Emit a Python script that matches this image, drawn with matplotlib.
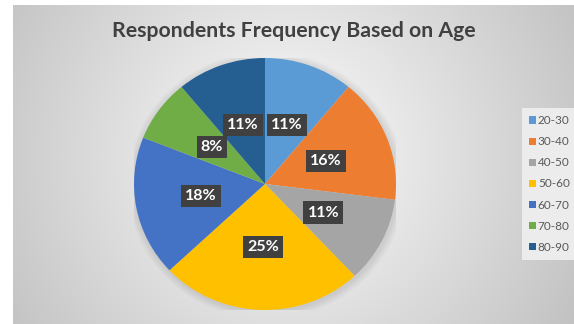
import numpy as np
import matplotlib
matplotlib.use("Agg")
import matplotlib.pyplot as plt

# age groups and their share of respondents (%)
age_groups = ["20-30", "30-40", "40-50", "50-60", "60-70", "70-80", "80-90"]
shares = [11, 16, 11, 25, 18, 8, 11]
colors = ["#5B9BD5", "#ED7D31", "#A5A5A5", "#FFC000", "#4472C4", "#70AD47", "#255E91"]

W, H = 574, 324
fig = plt.figure(figsize=(W / 100, H / 100), dpi=100)
fig.patch.set_facecolor("white")

# chart area with a radial grey gradient
bg = fig.add_axes([13 / W, 0, 1 - 13 / W, 1 - 5 / H])
bg.set_axis_off()
yy, xx = np.mgrid[0:319, 0:561]
d = np.hypot(xx - 272, yy - 150) / 320.0
shade = np.clip(0.99 - 0.22 * d, 0, 1)
bg.imshow(np.dstack([shade] * 3), aspect="auto", interpolation="bilinear")

# pie axes (slightly wider than tall)
cx, cy, rx, ry = 265, 184, 131, 126
ax = fig.add_axes([(cx - rx) / W, (H - cy - ry) / H, 2 * rx / W, 2 * ry / H])

# soft shadow around the pie
for k in range(6):
    s = 1.0 + 0.01 * (k + 1)
    ax.add_patch(matplotlib.patches.Ellipse((0.01, -0.01), 2 * s, 2 * s,
                                            facecolor="black", alpha=0.015, lw=0, zorder=0))

wedges, _, autotexts = ax.pie(
    shares, colors=colors, startangle=90, counterclock=False,
    autopct="%1.0f%%", pctdistance=0.5,
    wedgeprops=dict(linewidth=0),
    textprops=dict(color="white", fontsize=11.5, fontweight="bold", family="Lato"),
)
for t in autotexts:
    t.set_bbox(dict(boxstyle="square,pad=0.26", facecolor="#404040", edgecolor="none"))

ax.set_aspect("auto")
ax.set_xlim(-1, 1)
ax.set_ylim(-1, 1)
ax.set_axis_off()

fig.text(294 / W, 1 - 31 / H, "Respondents Frequency Based on Age",
         ha="center", va="center", fontsize=15.3, fontweight="bold",
         family="Lato", color="#404040")

leg = fig.legend(wedges, age_groups, loc="center left",
                 bbox_to_anchor=(516 / W, 1 - 184 / H),
                 frameon=True, fancybox=False, facecolor="#ececec", edgecolor="none",
                 framealpha=1, handlelength=0.6, handleheight=0.6,
                 handletextpad=0.15, labelspacing=0.85, borderpad=0.6,
                 prop=dict(family="Lato", size=8.5))
for t in leg.get_texts():
    t.set_color("#595959")

fig.savefig("out.png", dpi=100)
